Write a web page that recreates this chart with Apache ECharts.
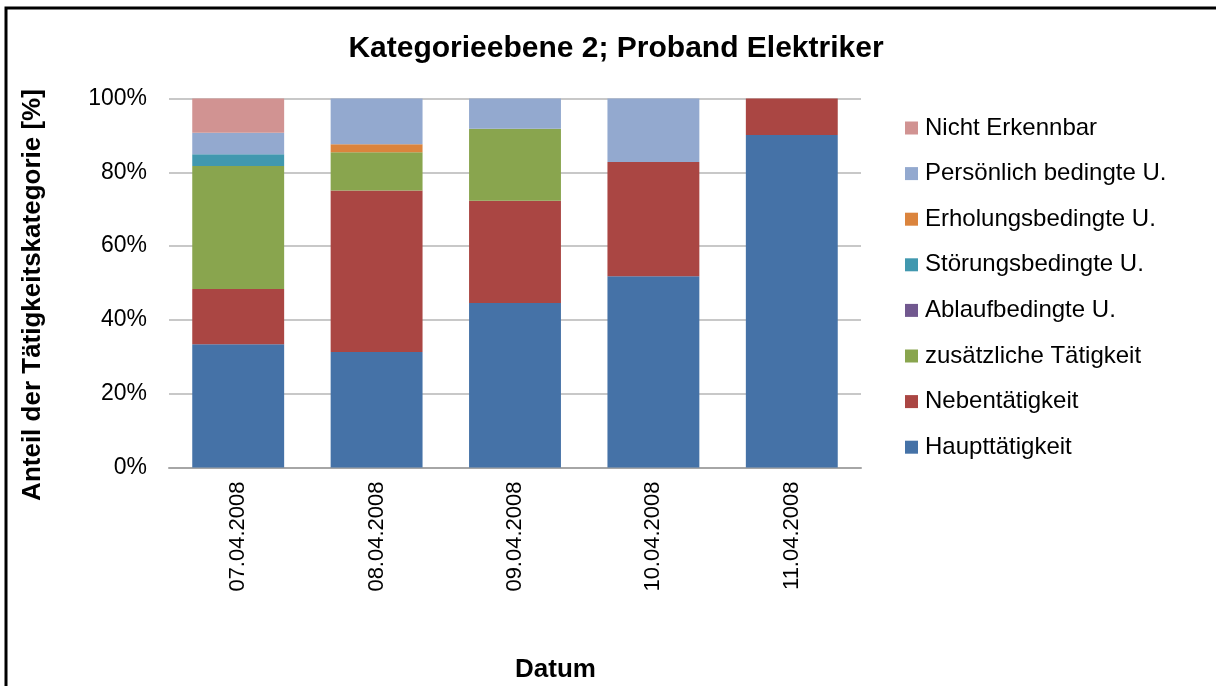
<!DOCTYPE html>
<html>
<head>
<meta charset="utf-8">
<script src="https://cdn.jsdelivr.net/npm/echarts@6/dist/echarts.min.js"></script>
<style>html,body{margin:0;padding:0;background:#fff}#c{width:1216px;height:686px}</style>
</head>
<body>
<div id="c"></div>
<script>
const categories = ['07.04.2008', '08.04.2008', '09.04.2008', '10.04.2008', '11.04.2008'];
const haupt = [33.4, 31.3, 44.6, 51.8, 90.1];
const neben = [15.0, 43.8, 27.7, 31.0, 9.9];
const zusaetzlich = [33.3, 10.3, 19.5, 0, 0];
const ablauf = [0, 0, 0, 0, 0];
const stoerung = [3.2, 0, 0, 0, 0];
const erholung = [0, 2.2, 0, 0, 0];
const persoenlich = [5.8, 12.4, 8.2, 17.2, 0];
const nichtErkennbar = [9.3, 0, 0, 0, 0];
const yTicks = [0, 20, 40, 60, 80, 100];

const seriesDefs = [
  ['Haupttätigkeit', haupt, '#4572A7'],
  ['Nebentätigkeit', neben, '#AA4643'],
  ['zusätzliche Tätigkeit', zusaetzlich, '#89A54E'],
  ['Ablaufbedingte U.', ablauf, '#71588F'],
  ['Störungsbedingte U.', stoerung, '#4198AF'],
  ['Erholungsbedingte U.', erholung, '#DB843D'],
  ['Persönlich bedingte U.', persoenlich, '#93A9CF'],
  ['Nicht Erkennbar', nichtErkennbar, '#D19392']
];

const chart = echarts.init(document.getElementById('c'), null, {renderer: 'canvas'});
const F = '"Liberation Sans", Arial, sans-serif';
chart.setOption({
  animation: false,
  backgroundColor: '#fff',
  title: {
    text: 'Kategorieebene 2; Proband Elektriker',
    left: 611, top: 29, textAlign: 'center',
    textStyle: {fontFamily: F, fontSize: 30, fontWeight: 'bold', color: '#000'}
  },
  legend: {
    orient: 'vertical',
    left: 900, top: 111,
    itemWidth: 13, itemHeight: 13, itemGap: 21.6,
    icon: 'rect',
    data: seriesDefs.map(s => s[0]).reverse(),
    textStyle: {fontFamily: F, fontSize: 24, color: '#000', padding: [0, 0, 0, 2]}
  },
  grid: {left: 169, right: 355, top: 98.5, bottom: 218.5, containLabel: false},
  xAxis: {
    type: 'category',
    data: categories,
    axisLine: {lineStyle: {color: '#A6A6A6', width: 2}},
    axisTick: {show: false},
    axisLabel: {rotate: 90, margin: 14, fontFamily: F, fontSize: 22, color: '#000'}
  },
  yAxis: {
    type: 'value', min: yTicks[0], max: yTicks[yTicks.length - 1], interval: 20,
    name: 'Anteil der Tätigkeitskategorie [%]',
    nameLocation: 'middle', nameGap: 123,
    nameTextStyle: {fontFamily: F, fontSize: 26, fontWeight: 'bold', color: '#000', padding: [0, 24, 0, 0]},
    axisLine: {show: false},
    axisTick: {show: false},
    splitLine: {lineStyle: {color: '#C8C8C8', width: 2}},
    axisLabel: {formatter: '{value}%', margin: 22, fontFamily: F, fontSize: 23, color: '#000'}
  },
  graphic: [
    {type: 'text', left: 515, top: 657, style: {text: 'Datum', fontFamily: F, fontSize: 26, fontWeight: 'bold', fill: '#000'}},
    {type: 'rect', shape: {x: 6, y: 8, width: 1400, height: 900}, style: {fill: 'none', stroke: '#000', lineWidth: 3}, silent: true}
  ],
  series: seriesDefs.map(s => ({
    name: s[0], type: 'bar', stack: 'all', data: s[1],
    barCategoryGap: '33.6%',
    itemStyle: {color: s[2]}
  }))
});
</script>
</body>
</html>
